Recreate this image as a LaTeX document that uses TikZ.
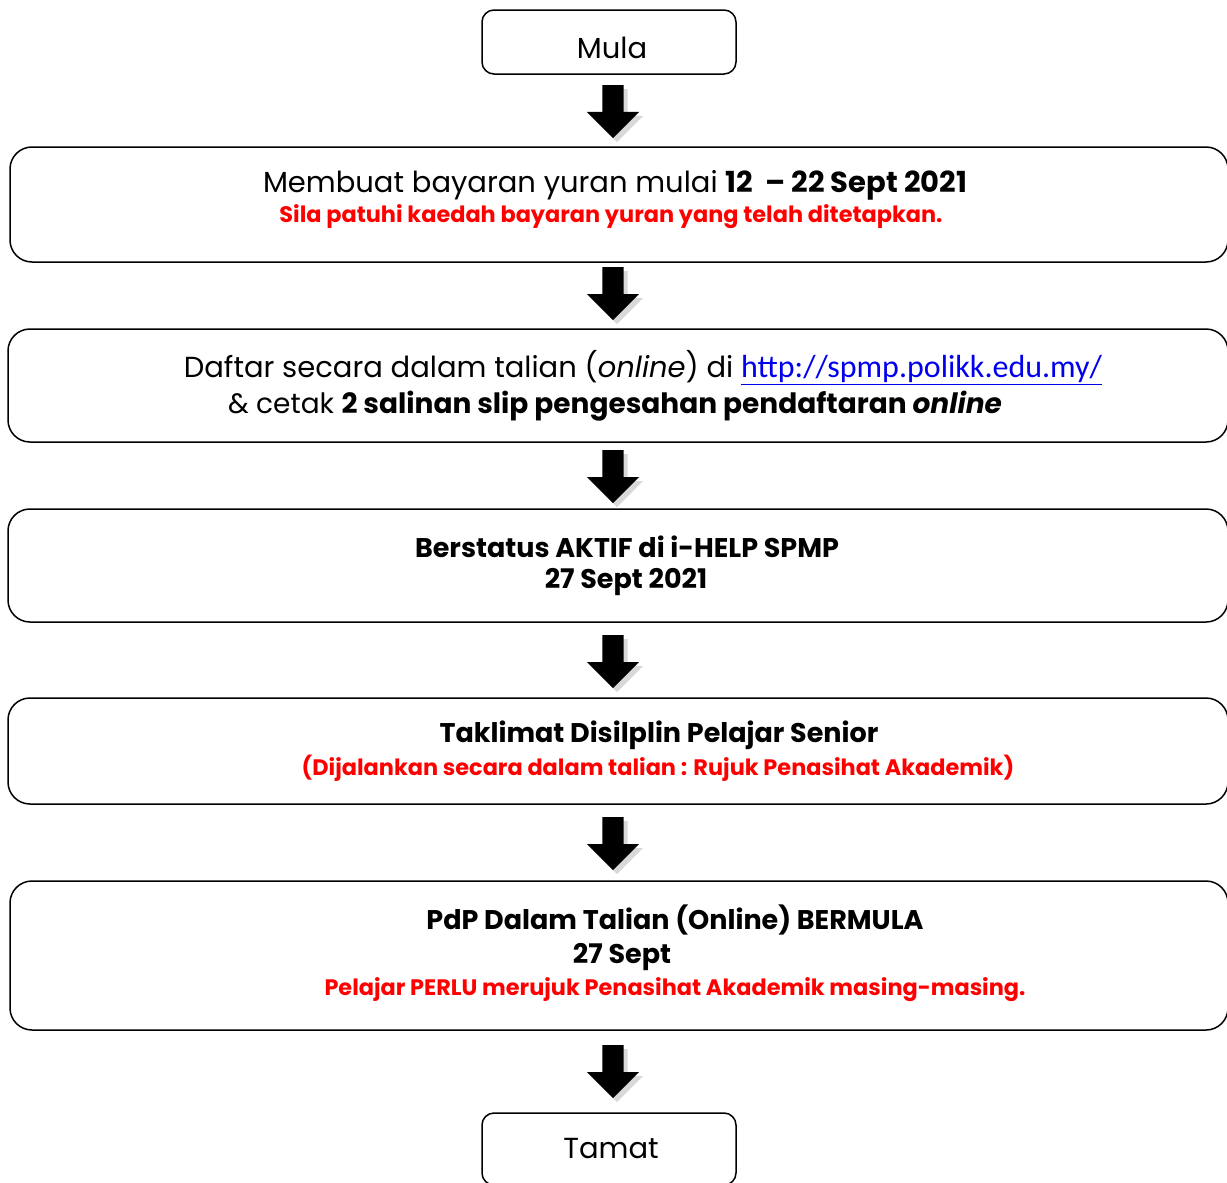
\documentclass[tikz,border=0pt]{standalone}
\usepackage{fontspec}
\setmainfont{Poppins}
\newfontfamily\linkfont{Carlito}
\usetikzlibrary{shapes.arrows,shadows}
\definecolor{linkblue}{RGB}{0,0,238}
\tikzset{
    stepbox/.style={draw, line width=1.5pt, rounded corners=22pt, inner sep=0pt},
    endbox/.style={draw, line width=1.5pt, rounded corners=12pt, inner sep=0pt,
        minimum width=254pt, minimum height=64pt},
    downarrow/.style={single arrow, fill=black, inner sep=10.5pt,
        minimum height=53pt, minimum width=52pt, single arrow head extend=15.5pt,
        shape border rotate=270, anchor=tail,
        drop shadow={shadow xshift=4pt, shadow yshift=-4pt, fill=black!30}},
    bigtxt/.style={inner sep=0pt, yshift=-2pt, font=\fontsize{29}{34}\selectfont},
    midtxt/.style={inner sep=0pt, yshift=-2pt, font=\fontsize{27}{32}\selectfont\bfseries},
    redtxt/.style={inner sep=0pt, yshift=-2pt, text=red, font=\fontsize{22.4}{27}\selectfont\bfseries}
}
\begin{document}
\begin{tikzpicture}[x=1pt, y=-1pt]
    \useasboundingbox (0,0) rectangle (1227,1183);

    % start and end
    \node[endbox] (mula) at (609,42) {};
    \node[endbox, minimum height=72pt] (tamat) at (609,1149) {};
    \node[bigtxt] (mulatxt) at (612,46) {Mula};
    \node[bigtxt] (tamattxt) at (611,1147) {Tamat};

    % steps
    \node[stepbox, minimum width=1218pt, minimum height=115pt] (bayar) at (619,204.5) {};
    \node[stepbox, minimum width=1220pt, minimum height=113pt] (daftar) at (618,385.5) {};
    \node[stepbox, minimum width=1220pt, minimum height=113pt] (aktif) at (618,565.5) {};
    \node[stepbox, minimum width=1220pt, minimum height=106pt] (taklimat) at (618,751) {};
    \node[stepbox, minimum width=1218pt, minimum height=149pt] (pdp) at (619,955.5) {};

    \node[bigtxt] (bayar1) at (615,183) {Membuat bayaran yuran mulai \textbf{12~~– 22 Sept 2021}};
    \node[redtxt] (bayar2) at (611,215) {Sila patuhi kaedah bayaran yuran yang telah ditetapkan.};

    \node[bigtxt] (daftar1) at (643,366) {Daftar secara dalam talian (\textit{online}) di
        {\linkfont\fontsize{32}{36}\selectfont\color{linkblue}\underline{http://spmp.polikk.edu.my/}}};
    \node[bigtxt, font=\fontsize{28}{33}\selectfont] (daftar2) at (615,404) {\& cetak \textbf{2 salinan slip pengesahan pendaftaran \textit{online}}};

    \node[midtxt] (aktif1) at (627,545) {Berstatus AKTIF di i-HELP SPMP};
    \node[midtxt] (aktif2) at (626,580) {27 Sept 2021};

    \node[midtxt] (taklimat1) at (659,733) {Taklimat Disilplin Pelajar Senior};
    \node[redtxt] (taklimat2) at (658,766) {(Dijalankan secara dalam talian : Rujuk Penasihat Akademik)};

    \node[midtxt] (pdp1) at (675,918) {PdP Dalam Talian (Online) BERMULA};
    \node[midtxt] (pdp2) at (622,955) {27 Sept};
    \node[redtxt] (pdp3) at (675,988) {Pelajar PERLU merujuk Penasihat Akademik masing-masing.};

    % block arrows between the boxes
    \foreach \y [count=\i] in {85,267,450,635,817,1045} {
        \node[downarrow] (arrow\i) at (613,\y) {};
    }
\end{tikzpicture}
\end{document}
